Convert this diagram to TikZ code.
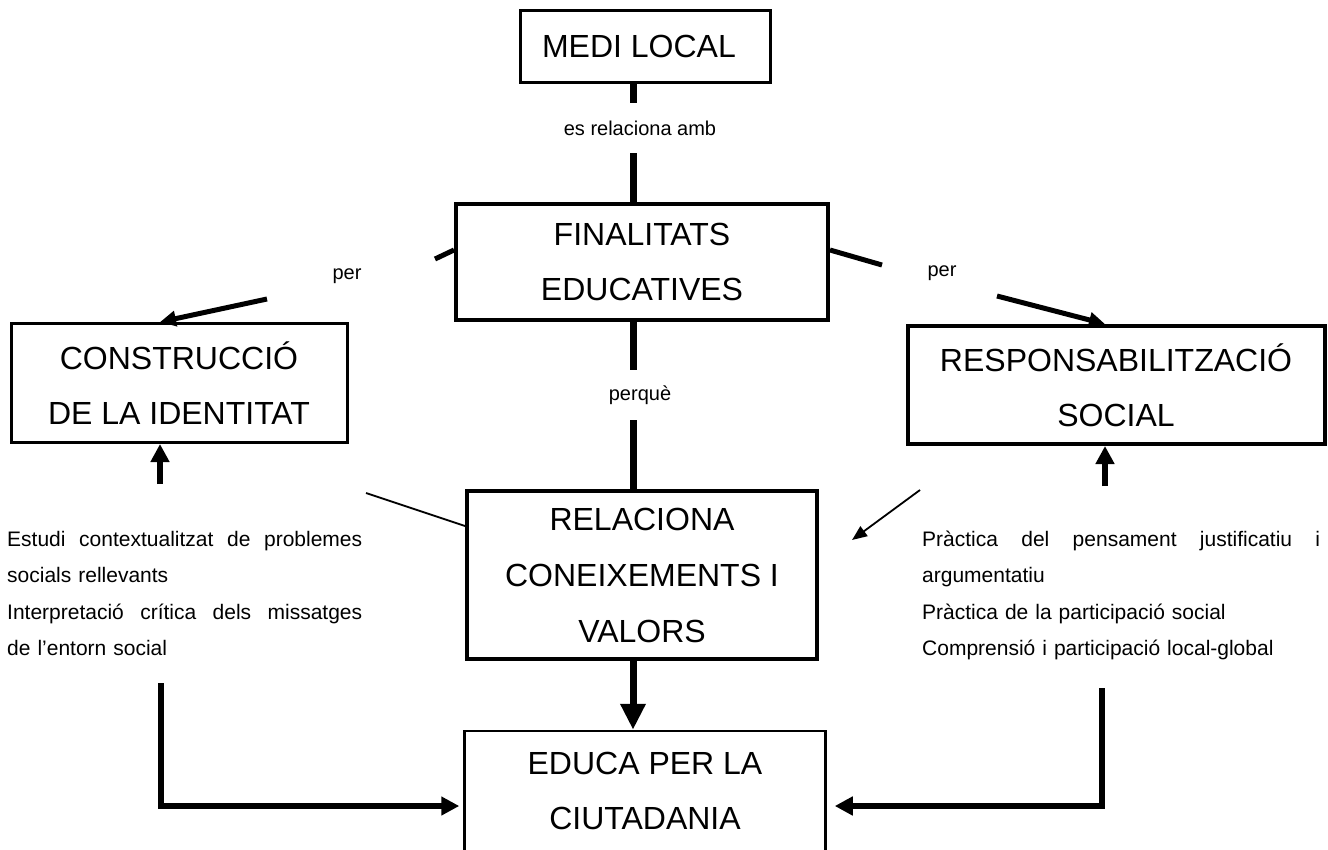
\documentclass[tikz,border=0pt]{standalone}
\usepackage{fontspec}
\setmainfont{Liberation Sans}
\usetikzlibrary{arrows.meta, positioning, calc}

\begin{document}
\begin{tikzpicture}[x=1pt, y=-1pt,
        caixa/.style={draw, line width=3pt, align=center, inner sep=0pt,
            font=\fontsize{32}{55}\selectfont},
        etiq/.style={inner sep=0pt, font=\fontsize{20}{24}\selectfont},
        llista/.style={inner sep=0pt, align=left, anchor=base west,
            font=\fontsize{21}{36.5}\selectfont},
        rel/.style={line width=7pt},
        branca/.style={line width=5pt},
        fletxa/.style={line width=6pt, -{Triangle[length=18pt, width=18pt]}},
        fletxaper/.style={line width=5pt, -{Triangle[length=16pt, width=15pt]}},
        relfina/.style={line width=1.8pt}
    ]
        \useasboundingbox (0,0) rectangle (1328,849);
        \clip (0,0) rectangle (1328,849);

        \node[caixa, minimum width=250pt, minimum height=72pt] (medi) at (645,46) {MEDI LOCAL\hspace*{12pt}};
        \node[caixa, line width=4pt, minimum width=372pt, minimum height=116pt] (finalitats) at (642,262) {FINALITATS\\EDUCATIVES};
        \node[caixa, minimum width=336pt, minimum height=119pt] (construccio) at (179,383) {CONSTRUCCIÓ\\DE LA IDENTITAT};
        \node[caixa, line width=4pt, minimum width=417pt, minimum height=118pt] (responsab) at (1116,385) {RESPONSABILITZACIÓ\\SOCIAL};
        \node[caixa, line width=4pt, minimum width=350pt, minimum height=168pt, font=\fontsize{32}{56}\selectfont] (relaciona) at (642,575) {RELACIONA\\CONEIXEMENTS I\\VALORS};
        \node[caixa, line width=2.5pt, minimum width=361pt, minimum height=120pt] (educa) at (645,791) {EDUCA PER LA\\CIUTADANIA};

        \node[etiq, minimum height=50pt] (esrel) at (640,128) {es relaciona amb};
        \node[etiq, minimum height=50pt] (perque) at (640,395) {perquè};
        \node[etiq] (perE) at (347,276) {per};
        \node[etiq] (perD) at (942,273) {per};

        \node[llista, text width=355pt] (llistaE) at (7,546) {\makebox[355pt]{Estudi\hfill contextualitzat\hfill de\hfill problemes}\\
            socials rellevants\\
            \makebox[355pt]{Interpretació\hfill crítica\hfill dels\hfill missatges}\\
            de l’entorn social};
        \node[llista, text width=398pt] (llistaD) at (922,546) {\makebox[398pt]{Pràctica\hfill del\hfill pensament\hfill justificatiu\hfill i}\\
            argumentatiu\\
            Pràctica de la participació social\\
            Comprensió i participació local-global};

        \coordinate (eix) at (633,0);
        \coordinate (brancE) at (435,259);
        \coordinate (brancD) at (882,265);
        \coordinate (cuaE) at (267,299);
        \coordinate (cuaD) at (997,296);
        \coordinate (entraE) at (160,0);
        \coordinate (entraD) at (1105,0);
        \coordinate (baseE) at (160,484);
        \coordinate (baseD) at (1105,486);
        \coordinate (filE) at (366,493);
        \coordinate (filD) at (920,490);
        \coordinate (puntaD) at (852,540);
        \coordinate (baixE) at (161,683);
        \coordinate (baixD) at (1102,688);
        \coordinate (nivell) at (0,806);

        \draw[rel] (medi.south -| eix) -- (esrel.north -| eix);
        \draw[rel] (esrel.south -| eix) -- (finalitats.north -| eix);
        \draw[rel] (finalitats.south -| eix) -- (perque.north -| eix);
        \draw[rel] (perque.south -| eix) -- (relaciona.north -| eix);
        \draw[rel, -{Triangle[length=26pt, width=24pt]}] (relaciona.south -| eix) -- (educa.north -| eix);

        \draw[branca] ([yshift=12pt]finalitats.west) -- (brancE);
        \draw[branca] ([yshift=12pt]finalitats.east) -- (brancD);
        \draw[fletxaper] (cuaE) -- (construccio.north -| entraE);
        \draw[fletxaper] (cuaD) -- (responsab.north -| entraD);

        \draw[fletxa] (baseE) -- (construccio.south -| baseE);
        \draw[fletxa] (baseD) -- (responsab.south -| baseD);

        \draw[relfina] (filE) -- ([yshift=49pt]relaciona.west);
        \draw[relfina, -{Triangle[length=15pt, width=12pt]}] (filD) -- (puntaD);

        \draw[fletxa] (baixE) |- ([xshift=-4pt]educa.west |- nivell);
        \draw[fletxa] (baixD) |- ([xshift=8pt]educa.east |- nivell);
    \end{tikzpicture}
\end{document}
